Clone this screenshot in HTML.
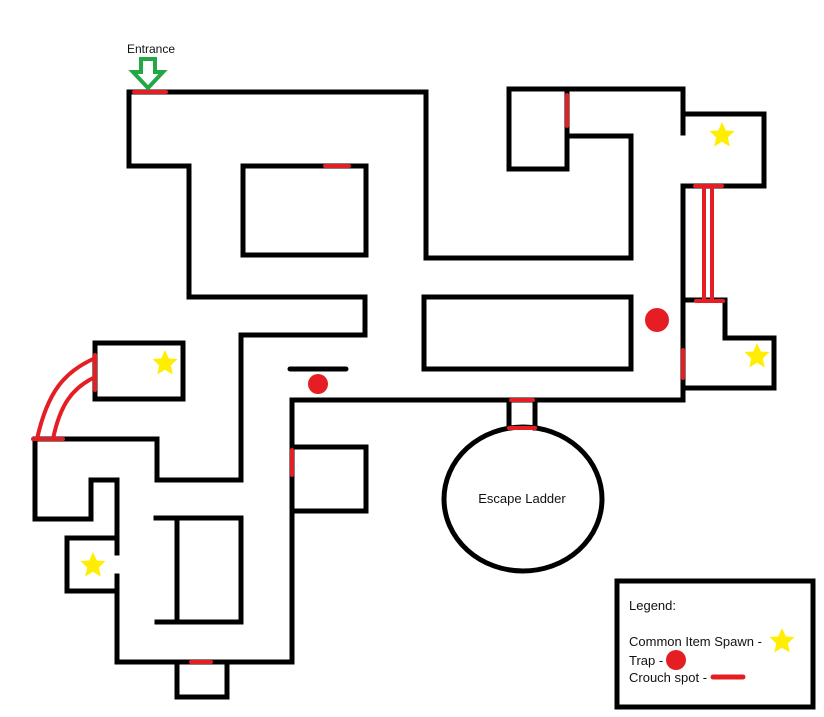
<!DOCTYPE html>
<html><head><meta charset="utf-8"><style>
html,body{margin:0;padding:0;background:#fff;}
svg{display:block;}
text{font-family:"Liberation Sans",sans-serif;fill:#111;}
</style></head><body>
<svg width="824" height="717" viewBox="0 0 824 717" xmlns="http://www.w3.org/2000/svg">
<defs>
<polygon id="star" points="0,-13 3.8,-4.5 12.5,-4 5.8,2.5 7.8,11.5 0,6.8 -7.8,11.5 -5.8,2.5 -12.5,-4 -3.8,-4.5" fill="#ffee00"/>
</defs>
<g fill="none" stroke="#000" stroke-width="5" stroke-linejoin="miter" stroke-linecap="square">
<polyline points="426,258 426,92 129,92 129,166 189,166 189,297 365,297 365,335 241,335 241,480 157,480 157,439 35,439 35,519 91,519 91,480 117,480 117,553"/>
<polyline points="117,576 117,662 292,662 292,400 683,400 683,300"/>
<polyline points="117,538 67,538 67,591 117,591"/>
<rect x="243" y="166" width="123" height="89"/>
<rect x="95" y="343" width="88" height="56"/>
<line x1="290" y1="369" x2="346" y2="369" stroke-linecap="round"/>
<polyline points="156,518 241,518 241,622 157,622"/>
<line x1="177" y1="518" x2="177" y2="622"/>
<polyline points="177,662 177,697 227,697 227,662"/>
<polyline points="292,447 366,447 366,511 292,511"/>
<polyline points="426,258 631,258 631,136 567,136"/>
<rect x="509" y="89" width="58" height="80"/>
<polyline points="567,89 683,89 683,133"/>
<polyline points="683,114 764,114 764,186 683,186 683,300"/>
<polyline points="683,300 725,300 725,338 774,338 774,388 683,388"/>
<rect x="424" y="297" width="207" height="72"/>
<line x1="509" y1="400" x2="509" y2="428"/>
<line x1="535" y1="400" x2="535" y2="428"/>
<ellipse cx="523" cy="499" rx="79" ry="72"/>
<rect x="617" y="581" width="196" height="126"/>
</g>
<g stroke="#e51e24" stroke-width="4" stroke-linecap="round" fill="none">
<line x1="134" y1="92" x2="166" y2="92"/>
<line x1="325" y1="166" x2="349" y2="166"/>
<line x1="567" y1="95" x2="567" y2="126"/>
<line x1="695" y1="186" x2="722" y2="186"/>
<line x1="704" y1="188" x2="704" y2="299"/>
<line x1="712" y1="188" x2="712" y2="299"/>
<line x1="696" y1="301" x2="723" y2="301"/>
<line x1="683" y1="350" x2="683" y2="378"/>
<line x1="511" y1="400" x2="533" y2="400"/>
<line x1="509" y1="428" x2="535" y2="428"/>
<line x1="95" y1="355" x2="95" y2="390"/>
<line x1="33" y1="439" x2="63" y2="439"/>
<path d="M95,358 C65,372 48,390 37,439"/>
<path d="M95,377 C72,388 60,405 53,439"/>
<line x1="292" y1="450" x2="292" y2="475"/>
<line x1="191" y1="662" x2="211" y2="662"/>
<line x1="713" y1="677" x2="743" y2="677" stroke-width="5"/>
</g>
<g fill="#e51e24">
<circle cx="318" cy="384" r="10"/>
<circle cx="657" cy="320" r="12"/>
<circle cx="676" cy="660" r="10"/>
</g>
<use href="#star" x="165" y="363"/>
<use href="#star" x="722" y="135"/>
<use href="#star" x="757" y="356"/>
<use href="#star" x="93" y="565"/>
<use href="#star" x="782" y="641"/>
<polygon points="141,59 155,59 155,72 163,72 148,88 133,72 141,72" fill="#fff" stroke="#22a845" stroke-width="4" stroke-linejoin="miter"/>
<text x="151" y="53" font-size="12" text-anchor="middle">Entrance</text>
<text x="522" y="503" font-size="13" text-anchor="middle">Escape Ladder</text>
<text x="629" y="610" font-size="13">Legend:</text>
<text x="629" y="646" font-size="13">Common Item Spawn -</text>
<text x="629" y="665" font-size="13">Trap -</text>
<text x="629" y="682" font-size="13">Crouch spot -</text>
</svg>
</body></html>
